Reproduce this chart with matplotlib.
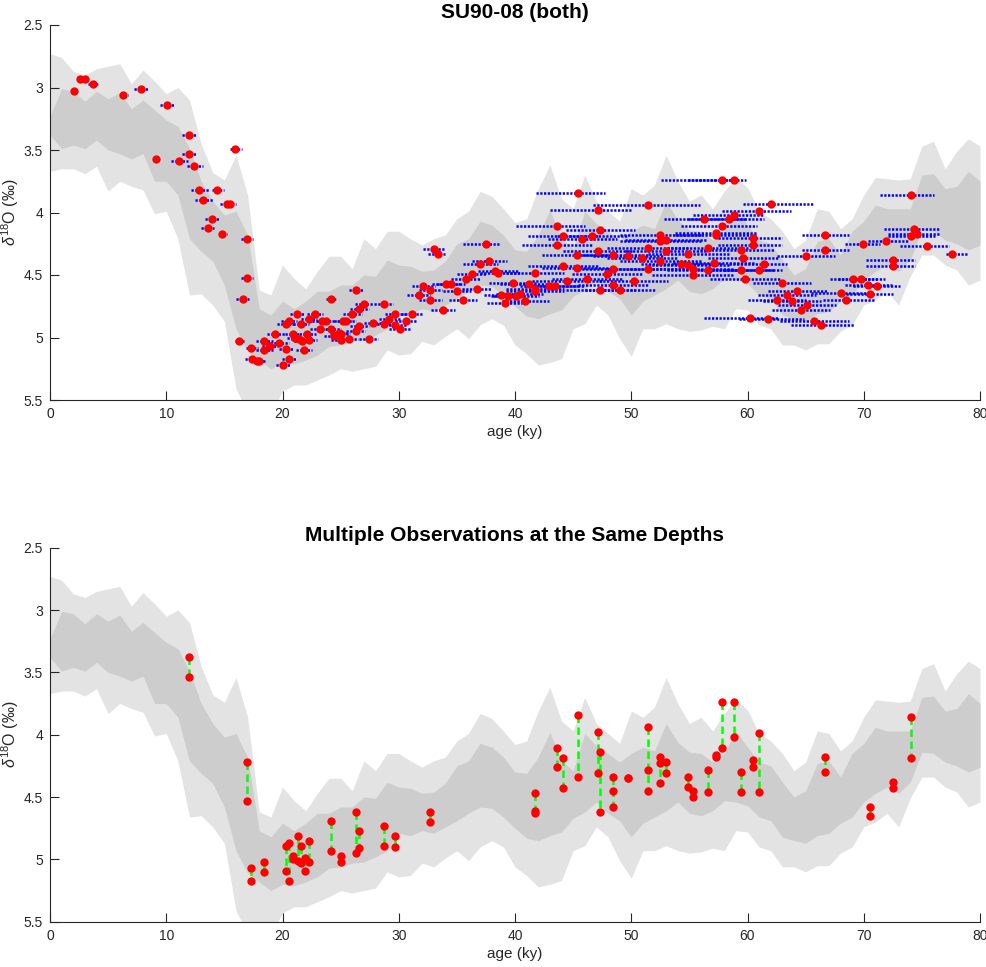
import numpy as np
import matplotlib
matplotlib.use("Agg")
import matplotlib.pyplot as plt
from matplotlib.collections import LineCollection

plt.rcParams['font.family'] = ['Liberation Sans', 'DejaVu Sans']
plt.rcParams['mathtext.fontset'] = 'custom'
plt.rcParams['mathtext.rm'] = 'Liberation Sans'
plt.rcParams['mathtext.it'] = 'Liberation Sans:italic'

# ---------------- stack bands (ages 0..80 ky, 1 ky step) ----------------
band_age = list(range(0, 81))
outer_upper = [2.73, 2.76, 2.87, 2.90, 2.85, 2.83, 2.81, 2.97, 2.86, 2.95,
               3.05, 3.00, 3.10, 3.45, 3.68, 3.74, 3.54, 3.86, 4.62, 4.66,
               4.42, 4.53, 4.61, 4.47, 4.35, 4.35, 4.45, 4.21, 4.29, 4.15,
               4.15, 4.21, 4.26, 4.21, 4.18, 4.05, 3.99, 3.83, 3.87, 3.97,
               4.08, 4.05, 3.81, 3.62, 3.89, 3.97, 3.70, 3.91, 3.99, 4.07,
               3.81, 3.86, 3.78, 3.54, 3.75, 3.91, 3.86, 3.97, 3.83, 3.72,
               3.80, 3.99, 4.05, 4.15, 4.29, 4.22, 3.97, 3.99, 4.13, 4.05,
               3.86, 3.72, 3.73, 3.74, 3.73, 3.47, 3.43, 3.65, 3.51, 3.41, 3.47]
inner_upper = [3.23, 3.01, 3.03, 3.11, 3.03, 3.09, 3.04, 3.17, 3.10, 3.18,
               3.26, 3.31, 3.49, 3.75, 3.91, 4.02, 3.99, 4.18, 4.77, 4.82,
               4.71, 4.77, 4.71, 4.63, 4.63, 4.58, 4.58, 4.50, 4.51, 4.38,
               4.42, 4.43, 4.47, 4.46, 4.39, 4.25, 4.21, 4.07, 4.10, 4.18,
               4.30, 4.31, 4.18, 3.98, 4.21, 4.29, 3.99, 4.09, 4.15, 4.22,
               4.15, 4.10, 4.13, 3.91, 4.06, 4.14, 4.15, 4.22, 4.15, 3.97,
               4.10, 4.22, 4.25, 4.38, 4.50, 4.45, 4.23, 4.21, 4.34, 4.15,
               4.07, 3.94, 3.97, 3.97, 3.97, 3.70, 3.69, 3.81, 3.79, 3.67, 3.75]
inner_lower = [3.38, 3.49, 3.46, 3.49, 3.42, 3.50, 3.53, 3.57, 3.53, 3.75,
               3.75, 3.86, 4.21, 4.31, 4.39, 4.58, 4.93, 5.11, 5.18, 5.25,
               5.20, 5.21, 5.18, 5.14, 5.07, 5.06, 5.03, 5.02, 4.98, 4.93,
               4.79, 4.81, 4.77, 4.79, 4.74, 4.69, 4.63, 4.58, 4.59, 4.66,
               4.75, 4.83, 4.85, 4.81, 4.78, 4.67, 4.62, 4.54, 4.63, 4.69,
               4.82, 4.71, 4.66, 4.61, 4.54, 4.63, 4.65, 4.61, 4.53, 4.54,
               4.57, 4.66, 4.69, 4.82, 4.85, 4.87, 4.81, 4.79, 4.71, 4.66,
               4.54, 4.47, 4.42, 4.47, 4.38, 4.14, 4.15, 4.22, 4.25, 4.30, 4.26]
outer_lower = [3.67, 3.65, 3.65, 3.69, 3.63, 3.83, 3.75, 3.79, 3.82, 4.01,
               3.99, 4.21, 4.66, 4.65, 4.74, 4.87, 5.41, 5.60, 5.60, 5.60,
               5.43, 5.38, 5.38, 5.34, 5.30, 5.25, 5.27, 5.25, 5.23, 5.10,
               5.14, 5.13, 5.03, 5.06, 4.99, 4.93, 5.01, 4.90, 4.85, 4.90,
               5.06, 5.13, 5.22, 5.20, 5.17, 4.93, 4.89, 4.74, 4.82, 5.01,
               5.15, 4.93, 4.93, 4.89, 4.93, 4.95, 4.94, 4.91, 4.93, 4.77,
               4.78, 4.90, 4.93, 5.06, 5.06, 5.10, 5.05, 5.05, 4.95, 4.90,
               4.74, 4.70, 4.63, 4.74, 4.51, 4.34, 4.34, 4.42, 4.46, 4.58, 4.54]

# ---------------- top panel observations ----------------
obs_age = [2.06, 2.58, 3.01, 3.73, 6.31, 7.80, 10.1, 11.99, 9.12, 11.13,
           11.99, 12.42, 15.95, 12.85, 14.40, 13.19, 15.19, 15.48, 13.94, 13.62,
           14.83, 16.95, 16.95, 16.63, 16.29, 17.32, 17.35, 17.78, 18.0, 18.44,
           18.44, 18.93, 19.38, 19.73, 20.07, 20.30, 20.59, 20.30, 20.59, 21.28,
           20.9, 21.1, 21.4, 21.6, 21.85, 21.7, 22.15, 22.3, 22.3, 22.8,
           23.2, 23.38, 23.75, 24.2, 24.2, 24.4, 24.9, 25.0, 25.0, 25.2,
           25.5, 25.7, 26.0, 26.3, 26.3, 26.6, 26.6, 27.0, 27.4, 27.8,
           28.7, 28.7, 29.2, 29.7, 29.7, 30.1, 30.6, 31.1, 31.7, 32.1,
           32.7, 32.7, 33.0, 33.4, 33.8, 34.1, 34.5, 35.0, 35.5, 35.8,
           36.3, 36.7, 37.0, 37.5, 37.8, 38.3, 38.5, 38.8, 39.1, 39.4,
           39.8, 40.1, 40.4, 40.9, 41.2, 41.7, 41.7, 41.7, 42.9, 43.4,
           43.6, 43.6, 44.1, 44.1, 44.5, 45.3, 45.3, 45.4, 45.8, 46.2,
           46.6, 47.1, 47.1, 47.35, 47.35, 47.9, 48.4, 48.4, 48.4, 49.0,
           49.7, 50.2, 50.9, 51.4, 51.4, 51.4, 52.5, 52.5, 52.5, 53.0,
           53.0, 54.3, 54.9, 54.9, 55.3, 55.3, 56.3, 56.6, 56.6, 57.1,
           57.3, 57.3, 57.8, 57.8, 58.4, 58.85, 58.85, 59.4, 59.4, 59.6,
           59.8, 60.2, 60.5, 60.5, 61.0, 61.0, 61.4, 61.8, 62.0, 62.5,
           63.0, 63.4, 63.8, 64.3, 64.6, 65.0, 65.1, 65.7, 66.3, 66.7,
           66.7, 68.0, 68.5, 69.1, 69.8, 69.9, 70.4, 70.5, 71.1, 71.9,
           72.5, 72.5, 74.1, 74.1, 74.3, 74.6, 75.4, 77.6]
obs_d18o = [3.03, 2.93, 2.93, 2.97, 3.06, 3.01, 3.14, 3.38, 3.57, 3.59,
            3.53, 3.63, 3.49, 3.82, 3.82, 3.90, 3.93, 3.93, 4.05, 4.12,
            4.17, 4.21, 4.52, 4.69, 5.03, 5.08, 5.17, 5.19, 5.19, 5.03,
            5.10, 5.07, 4.97, 5.04, 5.22, 5.09, 5.17, 4.89, 4.87, 4.81,
            4.97, 5.00, 5.01, 4.89, 5.10, 5.03, 4.97, 5.02, 4.85, 4.81,
            4.93, 4.87, 4.87, 4.69, 4.93, 4.99, 4.96, 5.02, 4.97, 4.87,
            4.87, 5.01, 4.81, 4.62, 4.95, 4.77, 4.91, 4.73, 5.01, 4.88,
            4.73, 4.89, 4.85, 4.81, 4.90, 4.93, 4.87, 4.81, 4.66, 4.59,
            4.62, 4.70, 4.29, 4.33, 4.78, 4.57, 4.57, 4.63, 4.70, 4.53,
            4.49, 4.61, 4.41, 4.25, 4.39, 4.47, 4.48, 4.66, 4.72, 4.67,
            4.56, 4.67, 4.65, 4.71, 4.57, 4.48, 4.61, 4.63, 4.59, 4.59,
            4.11, 4.26, 4.19, 4.43, 4.55, 4.34, 4.44, 3.84, 4.21, 4.53,
            4.19, 3.98, 4.31, 4.14, 4.62, 4.49, 4.34, 4.45, 4.58, 4.62,
            4.35, 4.55, 4.36, 3.94, 4.28, 4.45, 4.18, 4.23, 4.39, 4.22,
            4.31, 4.41, 4.33, 4.42, 4.45, 4.50, 4.05, 4.28, 4.46, 4.40,
            4.16, 4.18, 3.74, 4.11, 4.05, 3.74, 4.02, 4.30, 4.46, 4.36,
            4.53, 4.84, 4.20, 4.26, 3.99, 4.46, 4.41, 4.85, 3.93, 4.70,
            4.56, 4.66, 4.71, 4.63, 4.78, 4.35, 4.74, 4.87, 4.90, 4.18,
            4.30, 4.64, 4.70, 4.53, 4.53, 4.25, 4.58, 4.65, 4.59, 4.23,
            4.38, 4.43, 3.86, 4.19, 4.13, 4.17, 4.27, 4.33]
age_err_minus = [0.15, 0.2, 0.2, 0.45, 0.3, 0.6, 0.6, 0.6, 0.3, 0.7,
                 0.6, 0.6, 0.5, 0.7, 0.5, 0.7, 0.6, 0.5, 0.6, 0.6,
                 0.3, 0.5, 0.5, 0.6, 0.4, 0.5, 0.6, 0.6, 0.6, 0.7,
                 0.7, 0.7, 0.7, 0.8, 0.6, 0.6, 0.6, 0.8, 0.7, 0.6,
                 0.7, 0.7, 0.7, 0.7, 0.7, 0.7, 0.7, 0.7, 0.7, 0.7,
                 0.8, 0.8, 0.8, 0.5, 0.8, 0.8, 0.8, 0.8, 0.8, 0.8,
                 0.8, 0.8, 0.8, 0.6, 0.8, 0.8, 0.8, 0.8, 0.8, 0.8,
                 0.8, 0.9, 0.9, 0.9, 0.9, 0.9, 0.9, 0.9, 1.0, 1.0,
                 1.0, 1.0, 0.9, 0.9, 1.0, 1.2, 1.2, 1.2, 1.2, 1.3,
                 1.3, 1.3, 1.5, 2.0, 1.5, 1.5, 1.5, 1.5, 1.5, 1.5,
                 2.0, 2.0, 2.0, 2.0, 2.5, 2.5, 2.5, 2.5, 2.5, 2.5,
                 3.5, 3.0, 3.0, 3.0, 3.0, 3.0, 3.0, 3.6, 3.0, 3.0,
                 3.0, 4.1, 3.0, 3.0, 3.0, 3.0, 3.0, 3.0, 3.0, 3.0,
                 3.0, 3.0, 3.0, 4.7, 3.5, 3.5, 3.5, 3.5, 3.5, 3.5,
                 3.5, 3.5, 3.5, 3.5, 3.5, 3.5, 3.5, 3.5, 3.5, 3.5,
                 3.5, 3.5, 5.2, 3.5, 3.5, 4.0, 3.5, 3.5, 3.5, 3.0,
                 3.0, 3.9, 3.0, 3.0, 3.2, 3.0, 3.0, 2.5, 2.4, 2.5,
                 2.5, 2.5, 2.5, 2.5, 2.5, 2.5, 2.5, 2.9, 2.6, 2.0,
                 2.0, 2.5, 2.0, 2.0, 2.0, 1.5, 2.0, 2.0, 2.0, 1.5,
                 2.3, 2.3, 2.7, 2.0, 2.6, 2.5, 2.3, 0.5]
age_err_plus = [0.15, 0.2, 0.2, 0.45, 0.4, 0.6, 0.6, 0.6, 0.3, 0.7,
                0.6, 0.7, 0.6, 0.8, 0.6, 0.8, 0.5, 0.5, 0.7, 0.5,
                0.4, 0.5, 0.5, 0.5, 0.4, 0.6, 0.6, 0.6, 0.5, 0.7,
                0.7, 0.7, 0.8, 0.8, 0.6, 0.7, 0.6, 0.8, 0.7, 0.6,
                0.7, 0.7, 0.7, 0.7, 0.7, 0.7, 0.7, 0.7, 0.7, 0.7,
                0.8, 0.8, 0.8, 0.5, 0.8, 0.8, 0.8, 0.8, 0.8, 0.8,
                0.8, 0.8, 0.8, 0.6, 0.8, 0.8, 0.8, 0.8, 0.8, 0.8,
                0.8, 0.9, 0.9, 0.9, 0.9, 0.9, 0.9, 0.9, 1.0, 1.0,
                1.0, 1.0, 0.9, 0.6, 1.0, 1.2, 1.2, 1.2, 1.2, 1.3,
                1.3, 1.3, 1.5, 1.2, 1.5, 2.0, 2.0, 1.5, 1.5, 1.5,
                2.0, 2.0, 2.0, 2.0, 2.5, 2.5, 2.5, 2.5, 2.5, 2.5,
                2.4, 3.0, 3.0, 3.0, 3.0, 3.0, 3.0, 2.3, 3.0, 3.0,
                3.0, 3.0, 3.0, 3.0, 3.0, 3.0, 3.0, 3.0, 3.0, 3.0,
                3.0, 3.0, 3.0, 4.5, 3.5, 3.5, 3.5, 3.5, 3.5, 3.5,
                3.5, 3.5, 3.5, 3.5, 3.5, 3.5, 3.5, 3.5, 3.5, 3.5,
                3.5, 3.5, 1.5, 3.0, 3.0, 1.0, 2.5, 3.0, 3.0, 3.0,
                3.0, 2.5, 2.5, 2.5, 2.7, 2.0, 2.0, 3.1, 3.6, 2.5,
                2.5, 2.5, 2.5, 2.5, 2.5, 2.5, 2.5, 3.0, 2.9, 2.0,
                2.0, 2.5, 2.5, 2.0, 2.0, 1.5, 2.0, 2.0, 2.0, 2.0,
                1.9, 1.9, 1.9, 2.0, 2.3, 2.0, 1.9, 1.3]

# ---------------- bottom panel: multiple observations at same depth ----------------
same_depth_age = [11.95, 16.95, 17.33, 18.42, 20.3, 20.6, 20.9, 21.3, 21.6, 21.9,
                  22.3, 24.2, 25.0, 26.3, 26.6, 28.7, 29.7, 32.7, 41.7, 43.6,
                  44.1, 45.4, 47.1, 47.35, 48.4, 49.7, 51.4, 52.5, 53.0, 54.9,
                  55.3, 56.6, 57.3, 57.8, 58.85, 59.4, 60.5, 61.0, 66.7, 70.5,
                  72.5, 74.1]
same_depth_values = [[3.38, 3.54], [4.22, 4.53], [5.07, 5.17], [5.02, 5.10],
                     [4.89, 5.09], [4.87, 5.17], [4.97, 5.00], [4.81, 5.01],
                     [4.89, 5.03], [4.99, 5.09], [4.85, 5.02], [4.69, 4.93],
                     [4.97, 5.02], [4.62, 4.95], [4.77, 4.91], [4.73, 4.89],
                     [4.81, 4.90], [4.62, 4.70], [4.47, 4.61, 4.63], [4.11, 4.26],
                     [4.19, 4.43], [3.84, 4.34], [3.98, 4.31], [4.14, 4.62],
                     [4.34, 4.45, 4.58], [4.35, 4.35], [3.94, 4.28, 4.45],
                     [4.18, 4.23, 4.39], [4.22, 4.31], [4.34, 4.42], [4.45, 4.50],
                     [4.28, 4.46], [4.16, 4.18], [3.74, 4.11], [3.74, 4.02],
                     [4.30, 4.46], [4.20, 4.26], [3.99, 4.46], [4.18, 4.30],
                     [4.58, 4.65], [4.38, 4.43], [3.86, 4.19]]

titles = ["SU90-08 (both)", "Multiple Observations at the Same Depths"]
x_ticks = [0, 10, 20, 30, 40, 50, 60, 70, 80]
y_ticks = [2.5, 3, 3.5, 4, 4.5, 5, 5.5]
y_ticklabels = ["2.5", "3", "3.5", "4", "4.5", "5", "5.5"]

LIGHT = '#e3e3e3'
DARK = '#cdcdcd'
AXC = '#262626'

fig = plt.figure(figsize=(9.87, 9.67), dpi=100)
ax1 = fig.add_axes([50/987, 1-400/967, 930/987, 375/967])
ax2 = fig.add_axes([50/987, 1-921.7/967, 930/987, 374/967])


def style(ax, title):
    ax.fill_between(band_age, outer_upper, outer_lower, color=LIGHT, lw=0, zorder=1)
    ax.fill_between(band_age, inner_upper, inner_lower, color=DARK, lw=0, zorder=2)
    ax.set_xlim(0, 80)
    ax.set_ylim(5.5, 2.5)
    ax.set_xticks(x_ticks)
    ax.set_xticklabels([str(t) for t in x_ticks])
    ax.set_yticks(y_ticks)
    ax.set_yticklabels(y_ticklabels)
    for s in ['top', 'right']:
        ax.spines[s].set_visible(False)
    for s in ['left', 'bottom']:
        ax.spines[s].set_color(AXC)
        ax.spines[s].set_linewidth(0.8)
        ax.spines[s].set_zorder(10)
    ax.tick_params(direction='in', length=6.5, width=0.8, colors=AXC,
                   labelsize=10, labelcolor=AXC, pad=5)
    ax.set_xlabel('age (ky)', fontsize=11, color=AXC, labelpad=3)
    ax.set_ylabel(r'$\delta^{18}$O (‰)', fontsize=11.5, color=AXC)
    ax.yaxis.set_label_coords(-0.031, 0.5)
    ax.set_title(title, fontsize=15, fontweight='bold', color='black', pad=5)


style(ax1, titles[0])
style(ax2, titles[1])

# top: horizontal age error bars (dotted blue) + red dots
segs = []
for a, v, em, ep in zip(obs_age, obs_d18o, age_err_minus, age_err_plus):
    segs.append([(a - em, v), (a + ep, v)])
lc = LineCollection(segs, colors='blue', linewidths=1.8,
                    linestyles=[(0, (0.9, 0.6))], zorder=3, capstyle='butt')
ax1.add_collection(lc)
ax1.plot(obs_age, obs_d18o, 'o', color='red', markersize=6,
         markeredgewidth=0, zorder=4, linestyle='none')

# bottom: green dashed connectors + red dots
for a, vals in zip(same_depth_age, same_depth_values):
    ax2.plot([a, a], [min(vals), max(vals)], color='#00ff00', lw=1.8,
             dashes=(3, 1.8), zorder=3)
for a, vals in zip(same_depth_age, same_depth_values):
    ax2.plot([a] * len(vals), vals, 'o', color='red', markersize=6,
             markeredgewidth=0, zorder=4, linestyle='none')

fig.savefig('out.png', dpi=100)
